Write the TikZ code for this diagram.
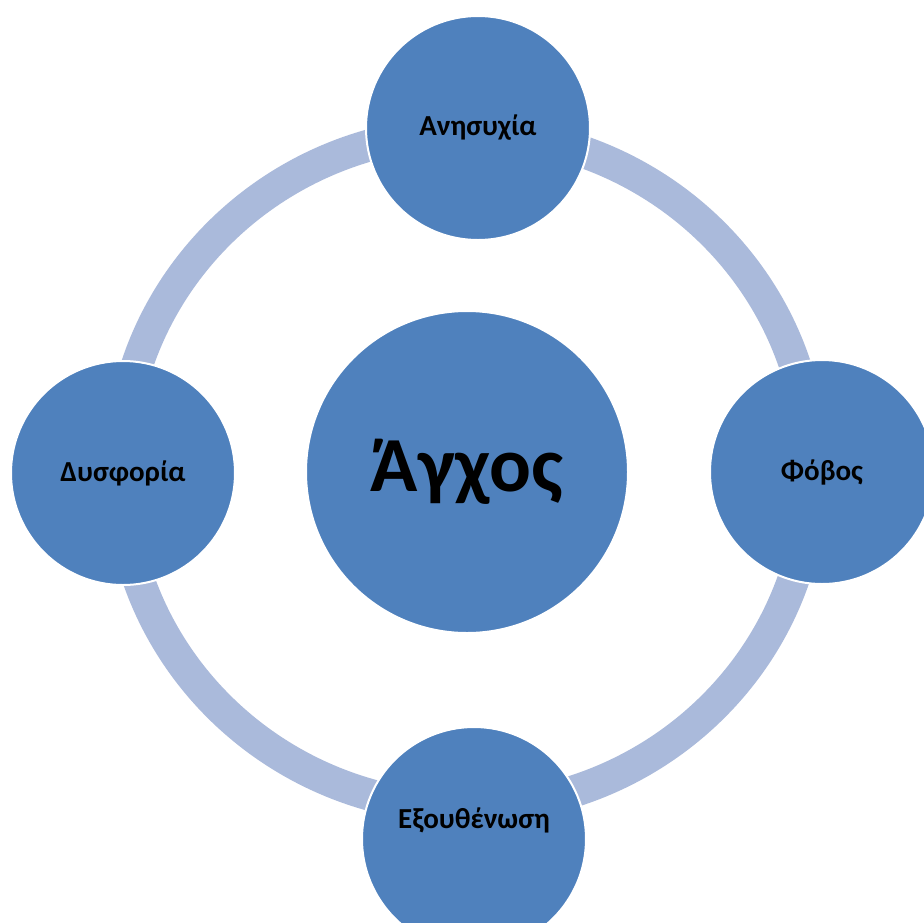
\documentclass[tikz,border=0pt]{standalone}
\usepackage{fontspec}
\setmainfont{Carlito}
\definecolor{circblue}{RGB}{79,129,189}
\definecolor{ringblue}{RGB}{170,186,219}
\tikzset{
  smallcirc/.style={circle, fill=circblue, draw=white, line width=2pt, minimum size=224pt, inner sep=0pt,
    font=\fontsize{29}{32}\selectfont\bfseries, text=black},
  bigcirc/.style={circle, fill=circblue, draw=white, line width=2pt, minimum size=322pt, inner sep=0pt,
    font=\fontsize{78}{86}\selectfont\bfseries, text=black},
  ringline/.style={draw=ringblue, line width=32pt}
}
\begin{document}
\begin{tikzpicture}[x=1pt,y=-1pt]
\useasboundingbox (0,0) rectangle (924,922);
\clip (0,0) rectangle (924,922);
\fill[white] (0,0) rectangle (924,922);
\coordinate (ringc) at (466,470);
\draw[ringline] (ringc) ellipse [x radius=346, y radius=338];
\node[bigcirc] (center) at (467,472) {Άγχος};
\node[smallcirc] (top) at (478,128) {Ανησυχία};
\node[smallcirc] (right) at (822,472) {Φόβος};
\node[smallcirc] (left) at (123,473) {Δυσφορία};
\node[smallcirc, label={[font=\fontsize{29}{32}\selectfont\bfseries, yshift=19pt]center:Εξουθένωση}] (bottom) at (474,839) {};
\end{tikzpicture}
\end{document}
